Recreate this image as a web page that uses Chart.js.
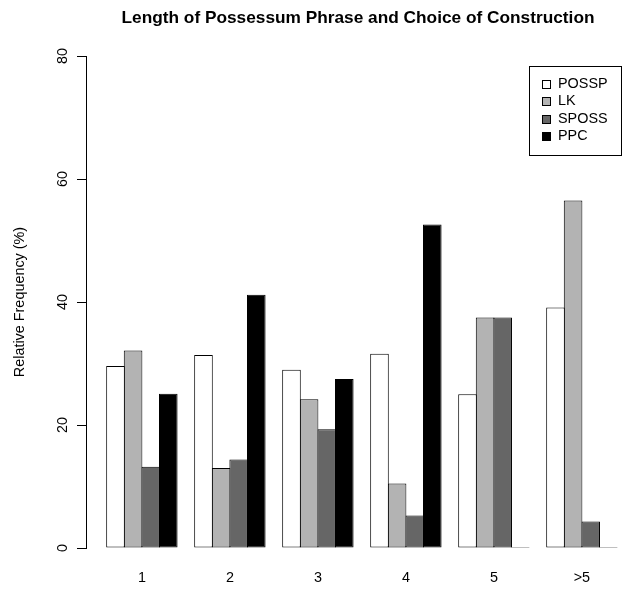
<!DOCTYPE html>
<html>
<head>
<meta charset="utf-8">
<script src="https://cdn.jsdelivr.net/npm/chart.js@4/dist/chart.umd.min.js"></script>
<style>
  html, body { margin: 0; padding: 0; background: #fff; overflow: hidden; }
  #wrap { position: relative; width: 716px; height: 590px; }
</style>
</head>
<body>
<div id="wrap"><canvas id="c" width="716" height="590"></canvas></div>
<script>
// Relative frequency (%) of each construction by possessum phrase length
const categories = ['1', '2', '3', '4', '5', '>5'];
const seriesNames = ['POSSP', 'LK', 'SPOSS', 'PPC'];
const possp = [29.6, 31.4, 29.0, 31.6, 25.0, 39.1];
const lk    = [32.1, 13.0, 24.2, 10.5, 37.5, 56.5];
const sposs = [13.2, 14.4, 19.3, 5.3, 37.5, 4.3];
const ppc   = [25.1, 41.2, 27.5, 52.6, 0, 0];
const yTicks = [0, 20, 40, 60, 80];

const fills = ['#ffffff', '#b3b3b3', '#666666', '#000000'];
const FONT = "'Liberation Sans', Arial, Helvetica, sans-serif";
const BASE = 14.4;

// Boxed legend in the upper right, drawn from the dataset labels and fills
const legendBox = {
  id: 'legendBox',
  afterDraw(chart) {
    const c = chart.ctx;
    const left = 529.5, top = 66.5, right = 621.5, bottom = 155.5;
    const rowStep = 17.6, firstRow = 83.6;
    c.save();
    c.fillStyle = '#fff';
    c.fillRect(left, top, right - left, bottom - top);
    c.strokeStyle = '#000';
    c.lineWidth = 1;
    c.strokeRect(left, top, right - left, bottom - top);
    c.font = BASE + 'px ' + FONT;
    c.textBaseline = 'middle';
    c.textAlign = 'left';
    chart.data.datasets.forEach((ds, i) => {
      const y = firstRow + i * rowStep;
      const sy = Math.round(y - 4) + 0.5;
      c.fillStyle = ds.backgroundColor;
      c.fillRect(542.5, sy, 8, 8);
      c.strokeStyle = '#000';
      c.strokeRect(542.5, sy, 8, 8);
      c.fillStyle = '#000';
      c.fillText(ds.label, 558, y);
    });
    c.restore();
  }
};

const series = [possp, lk, sposs, ppc];

new Chart(document.getElementById('c').getContext('2d'), {
  type: 'bar',
  data: {
    datasets: series.map((vals, k) => ({
      label: seriesNames[k],
      data: vals.map((v, i) => ({ x: i, y: v })),
      backgroundColor: fills[k],
      borderColor: '#000',
      borderWidth: 1,
      borderSkipped: false,
      minBarLength: 1,
      categoryPercentage: 0.8,
      barPercentage: 18.6 / 17.6
    }))
  },
  options: {
    responsive: false,
    animation: false,
    devicePixelRatio: 1,
    layout: { padding: 0 },
    plugins: {
      legend: { display: false },
      tooltip: { enabled: false },
      title: {
        display: true,
        text: 'Length of Possessum Phrase and Choice of Construction',
        color: '#000',
        font: { family: FONT, size: 17.28, weight: 'bold', lineHeight: 1.2 },
        padding: { top: 7.4, bottom: 27.9 }
      }
    },
    scales: {
      x: {
        type: 'linear',
        min: -0.635,
        max: 6.524,
        offset: false,
        afterBuildTicks: s => { s.ticks = categories.map((c, i) => ({ value: i })); },
        afterFit: s => { s.height = 42; },
        grid: { display: false, drawTicks: false },
        border: { display: false },
        ticks: {
          callback: v => categories[v] ?? '',
          autoSkip: false,
          maxRotation: 0,
          padding: 21,
          color: '#000',
          font: { family: FONT, size: BASE }
        }
      },
      y: {
        min: 0,
        max: 80,
        afterBuildTicks: s => { s.ticks = yTicks.map(v => ({ value: v })); },
        afterFit: s => { s.width = 86; },
        grid: { display: true, drawOnChartArea: false, drawTicks: true, tickLength: 9, color: '#000', lineWidth: 1 },
        border: { display: true, color: '#000', width: 1 },
        ticks: {
          minRotation: 90,
          maxRotation: 90,
          crossAlign: 'center',
          padding: 6,
          color: '#000',
          font: { family: FONT, size: BASE }
        },
        title: {
          display: true,
          text: 'Relative Frequency (%)',
          color: '#000',
          font: { family: FONT, size: BASE },
          padding: { top: 11, bottom: 0 }
        }
      }
    }
  },
  plugins: [legendBox]
});
</script>
</body>
</html>
